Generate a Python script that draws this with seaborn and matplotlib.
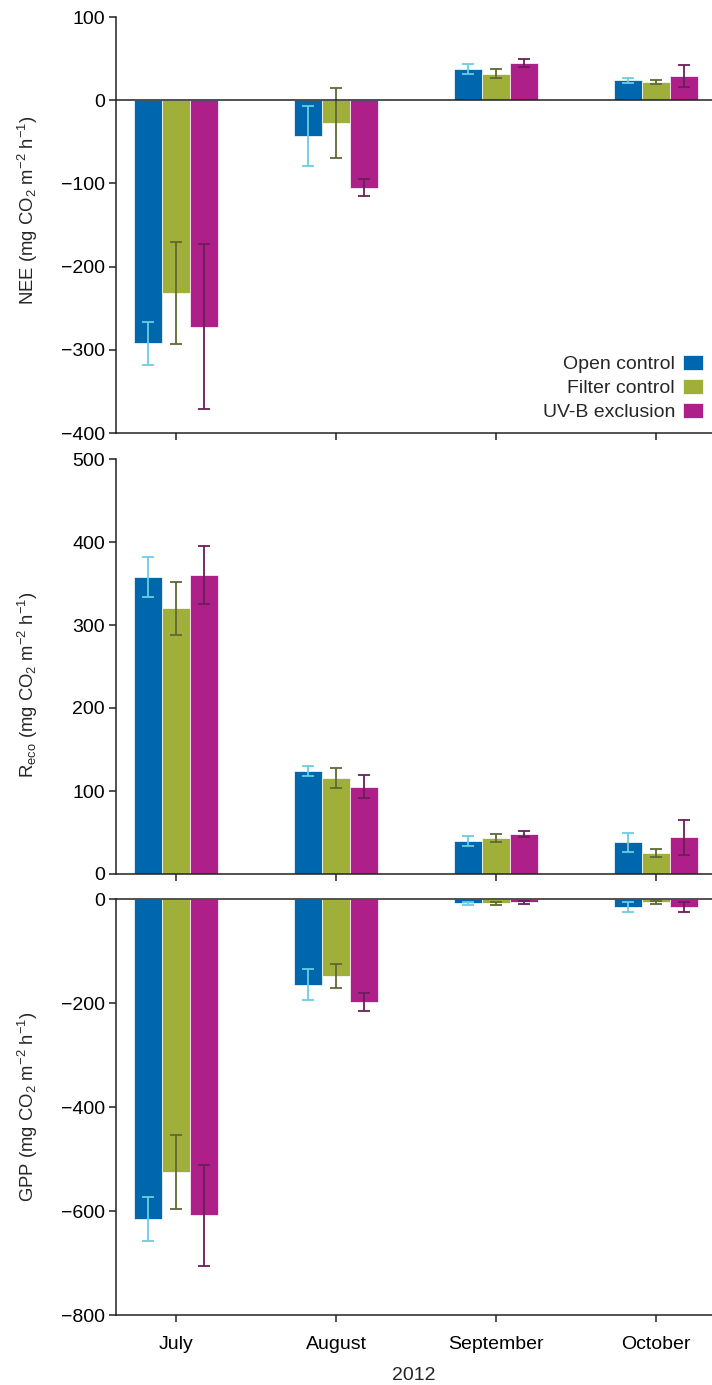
import numpy as np
import pandas as pd
import matplotlib
matplotlib.use("Agg")
import matplotlib.pyplot as plt
from matplotlib.container import BarContainer
import seaborn as sns

# ---------------- data ----------------
months = ["July", "August", "September", "October"]
treatments = ["Open control", "Filter control", "UV-B exclusion"]

nee_open = [-292, -43, 37, 24]
nee_filter = [-232, -27, 32, 22]
nee_uvb = [-272, -105, 45, 29]
nee_open_err = [26, 36, 6, 3]
nee_filter_err = [61, 42, 5, 2.5]
nee_uvb_err = [99, 10, 5, 13]

reco_open = [358, 124, 40, 38]
reco_filter = [320, 116, 43, 25]
reco_uvb = [360, 105, 48, 44]
reco_open_err = [24, 6, 6, 12]
reco_filter_err = [32, 12, 5, 5]
reco_uvb_err = [35, 14, 4, 21]

gpp_open = [-615, -165, -8, -15]
gpp_filter = [-525, -148, -8, -6]
gpp_uvb = [-608, -198, -6, -15]
gpp_open_err = [42, 30, 3, 10]
gpp_filter_err = [72, 23, 3, 3]
gpp_uvb_err = [97, 17, 3, 10]

year_label = "2012"
nee_ticks = [100, 0, -100, -200, -300, -400]
reco_ticks = [500, 400, 300, 200, 100, 0]
gpp_ticks = [0, -200, -400, -600, -800]

bar_colors = ["#0066AE", "#A0AF3A", "#AF1F8A"]
err_colors = ["#6CCDE2", "#5E6A35", "#6A1E58"]

# ---------------- style ----------------
sns.set_style("ticks")
plt.rcParams["font.family"] = ["Liberation Sans", "DejaVu Sans"]
plt.rcParams["mathtext.default"] = "regular"
plt.rcParams["axes.unicode_minus"] = True

FS = 14
FS_LAB = 13.3
LC = "#222222"
LW = 1.1


def long_df(vals):
    rows = []
    for t, series in zip(treatments, vals):
        for m, v in zip(months, series):
            rows.append({"month": m, "treatment": t, "value": v})
    return pd.DataFrame(rows)


fig = plt.figure(figsize=(7.12, 13.85), dpi=100)
left = 116 / 712
width = 1 - left
H = 1385.0
panels = [
    (17, 433),
    (459, 874),
    (899, 1315),
]
axes = []
for top, bot in panels:
    ax = fig.add_axes([left, 1 - bot / H, width, (bot - top) / H])
    axes.append(ax)

specs = [
    ([nee_open, nee_filter, nee_uvb], [nee_open_err, nee_filter_err, nee_uvb_err],
     (-400, 100), nee_ticks, "NEE (mg CO$_2$ m$^{-2}$ h$^{-1}$)", 0.535),
    ([reco_open, reco_filter, reco_uvb], [reco_open_err, reco_filter_err, reco_uvb_err],
     (0, 500), reco_ticks, "R$_{eco}$ (mg CO$_2$ m$^{-2}$ h$^{-1}$)", 0.455),
    ([gpp_open, gpp_filter, gpp_uvb], [gpp_open_err, gpp_filter_err, gpp_uvb_err],
     (-800, 0), gpp_ticks, "GPP (mg CO$_2$ m$^{-2}$ h$^{-1}$)", 0.5),
]

for k, (ax, (vals, errs, ylim, ticks, ylabel, ly)) in enumerate(zip(axes, specs)):
    df = long_df(vals)
    sns.barplot(data=df, x="month", y="value", hue="treatment", order=months,
                hue_order=treatments, palette=bar_colors, width=0.53, gap=0,
                errorbar=None, edgecolor="white", linewidth=0.5,
                saturation=1, legend=(k == 0), ax=ax)
    bar_conts = [c for c in ax.containers if isinstance(c, BarContainer)]
    for i, cont in enumerate(bar_conts):
        for j, bar in enumerate(cont.patches):
            xc = bar.get_x() + bar.get_width() / 2
            yv = bar.get_y() + bar.get_height()
            ax.errorbar(xc, yv, yerr=errs[i][j], fmt="none", ecolor=err_colors[i],
                        elinewidth=1.3, capsize=4.3, capthick=1.3, zorder=5)
    ax.set_ylim(*ylim)
    ax.set_xlim(-0.375, 3.35)
    ax.set_yticks(ticks)
    ax.set_ylabel(ylabel, fontsize=FS_LAB)
    ax.yaxis.set_label_coords(-0.128, ly)
    ax.tick_params(axis="both", direction="out", length=5, width=LW, colors=LC,
                   labelsize=FS, labelcolor="black", pad=3)
    for s in ["left", "bottom", "top", "right"]:
        ax.spines[s].set_color(LC)
        ax.spines[s].set_linewidth(LW)
    ax.spines["right"].set_visible(False)
    ax.spines["top"].set_visible(k == 2)
    ax.set_xlabel("")
    if k < 2:
        ax.set_xticklabels([])
    if k == 0:
        ax.axhline(0, color=LC, lw=LW, zorder=6)
        handles, labels = ax.get_legend_handles_labels()
        ax.legend(handles, labels, loc="lower right", bbox_to_anchor=(1.0, 0.008),
                  frameon=False, markerfirst=False, fontsize=FS,
                  handlelength=1.05, handleheight=0.8, handletextpad=0.4,
                  labelspacing=0.3, borderaxespad=0.0, borderpad=0.45,
                  alignment="right")

axes[2].set_xlabel(year_label, fontsize=FS, labelpad=10)
axes[2].tick_params(axis="x", pad=10)

fig.savefig("out.png", dpi=100)
